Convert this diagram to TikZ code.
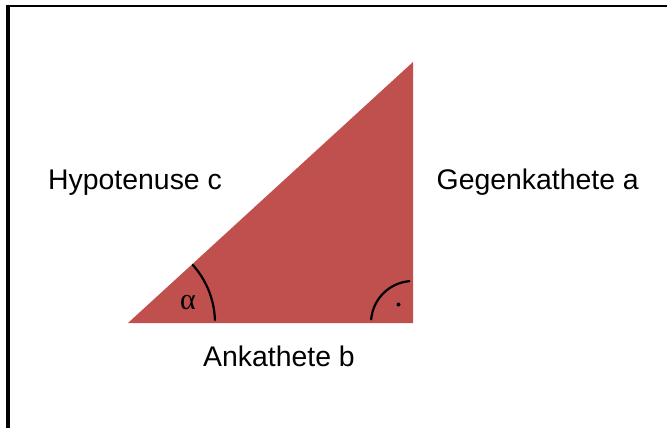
\documentclass[tikz,border=0pt]{standalone}
\usepackage{fontspec}
\setmainfont{Liberation Sans}
\newfontfamily\griech{Liberation Serif}
\usepackage{amsmath}
\usepackage{tikz}
\definecolor{dreieck}{RGB}{192,80,77}
\tikzset{
  seite/.style={inner sep=0pt, anchor=base west, font=\fontsize{28.4}{32}\selectfont},
  winkel/.style={line width=2.2pt, line cap=round}
}

\begin{document}
\begin{tikzpicture}[x=1pt,y=-1pt]
\useasboundingbox (0,0) rectangle (667,428);
% frame
\draw[line width=4pt] (8,5) -- (8,428);
\draw[line width=2.5pt] (6,6) -- (667,6);

% triangle
\coordinate (A) at (128,323);
\coordinate (C) at (413,323);
\coordinate (B) at (413,62);
\fill[dreieck] (A) -- (C) -- (B) -- cycle;

% angles
\draw[winkel] ([shift={(-2:87)}]A) arc[start angle=-2, end angle=-42, radius=87];
\draw[winkel] ([shift={(-175:42)}]C) arc[start angle=-175, end angle=-95, radius=42];
\fill (398.5,304.5) circle(2);
\node[inner sep=0pt, font=\griech\fontsize{30}{34}\selectfont] (alpha) at (188,303) {α};

% labels
\node[seite] (hyp) at (48,189) {Hypotenuse c};
\node[seite] (gegen) at (436.5,189) {Gegenkathete a};
\node[seite] (an) at (203,366) {Ankathete b};
\end{tikzpicture}
\end{document}
